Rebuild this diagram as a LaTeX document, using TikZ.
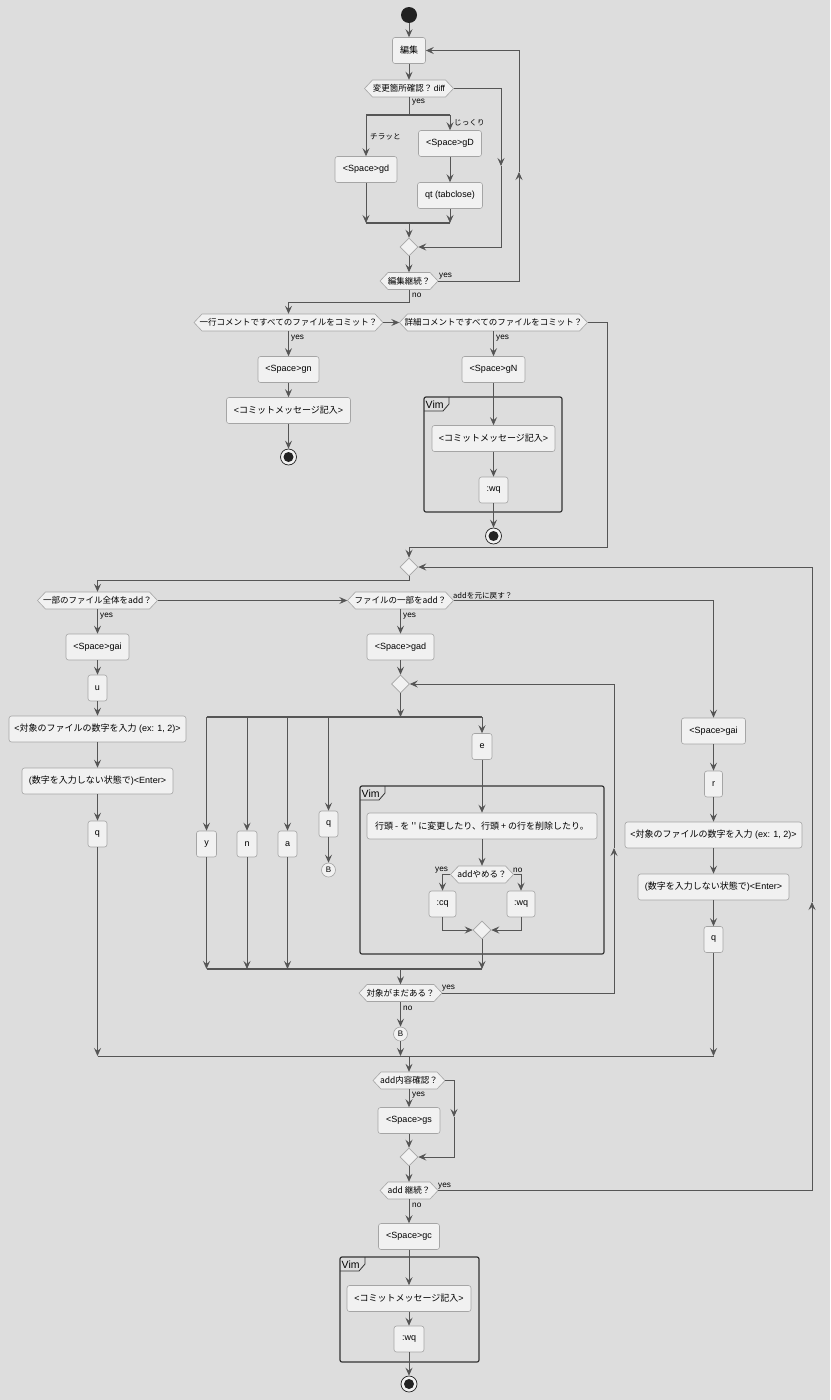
\documentclass[tikz,border=0pt]{standalone}
\usepackage{fontspec}
\setmainfont{Liberation Sans}
\newfontfamily\jp{Noto Sans CJK JP}
\usetikzlibrary{arrows.meta,shapes.geometric}
\definecolor{bgc}{HTML}{DDDDDD}
\definecolor{boxf}{HTML}{F1F1F1}
\definecolor{boxd}{HTML}{A5A5A5}
\definecolor{linec}{HTML}{555555}
\definecolor{partc}{HTML}{333333}
\definecolor{dotc}{HTML}{222222}
\tikzset{
 act/.style={rectangle, rounded corners=2.5pt, draw=boxd, fill=boxf, line width=0.6pt, inner sep=0pt, font=\fontsize{9}{10}\selectfont, text=black},
 hexbox/.style={rectangle, inner sep=0pt, minimum height=17pt, font=\fontsize{8.5}{10}\selectfont, text=black},
 hexline/.style={draw=boxd, fill=boxf, line width=0.6pt},
 merge/.style={diamond, draw=boxd, fill=boxf, line width=0.6pt, inner sep=0pt, minimum width=18pt, minimum height=18pt},
 startn/.style={circle, fill=dotc, inner sep=0pt, minimum size=16pt},
 endn/.style={circle, draw=dotc, fill=boxf, line width=0.7pt, inner sep=0pt, minimum size=16pt, path picture={\fill[dotc] (path picture bounding box.center) circle (5pt);}},
 conn/.style={circle, draw=boxd, fill=boxf, line width=0.6pt, inner sep=0pt, minimum size=14pt, font=\fontsize{8}{9}\selectfont},
 arr/.style={draw=linec, line width=0.8pt, ->},
 ln/.style={draw=linec, line width=0.8pt},
 bar/.style={draw=linec, line width=1.5pt},
 lbl/.style={inner sep=0pt, font=\fontsize{8.2}{9}\selectfont, text=black},
 jlbl/.style={inner sep=0pt, font=\fontsize{7.6}{9}\selectfont\jp, text=black},
 part/.style={draw=partc, line width=1.2pt, rounded corners=2pt},
}
\newcommand\hexat[5]{%
 \path[hexline] ({#2-#4/2},#3) -- ({#2-#4/2+8},{#3-8.5}) -- ({#2+#4/2-8},{#3-8.5}) -- ({#2+#4/2},#3) -- ({#2+#4/2-8},{#3+8.5}) -- ({#2-#4/2+8},{#3+8.5}) -- cycle;
 \node[hexbox, minimum width=#4pt] (#1) at (#2,#3) {#5};}
\newcommand\actat[5]{\node[act, minimum width=#4pt, minimum height=26pt] (#1) at (#2,#3) {#5};}
\newcommand\vimpart[5]{%
 \draw[part] (#2,#3) rectangle (#4,#5);
 \draw[partc, line width=0.8pt] (#2,{#3+14}) -- ({#2+19},{#3+14}) -- ({#2+25},{#3+7}) -- ({#2+25},#3);
 \node[anchor=base west, inner sep=0pt, font=\fontsize{10.5}{11}\selectfont] (#1) at ({#2+1.5},{#3+11}) {Vim};}
\begin{document}
\begin{tikzpicture}[x=1pt,y=-1pt,>={Stealth[length=8pt,width=7pt,inset=3pt]}]
\fill[bgc] (0,0) rectangle (830,1400);
\useasboundingbox (0,0) rectangle (830,1400);

% partitions
\vimpart{v1}{424}{397}{562}{512}
\vimpart{v2}{360}{786}{604}{954}
\vimpart{v3}{340}{1257}{479}{1362}

% ---------- section 1
\node[startn] (start) at (409,15) {};
\actat{edit}{409}{50.5}{33}{\jp 編集}
\hexat{d1}{409}{88.5}{89}{{\jp 変更箇所確認？}\kern1.5pt diff}
\actat{gd}{366}{169.5}{62}{<Space>gd}
\actat{gD}{450}{143.5}{63}{<Space>gD}
\actat{qt}{450}{195.5}{65}{qt (tabclose)}
\node[merge] (m1) at (409,247) {};
\hexat{d2}{409}{281}{58}{\jp 編集継続？}

% ---------- section 2
\hexat{d3}{288.5}{322.5}{189}{\jp 一行コメントですべてのファイルをコミット？}
\hexat{d4}{493.5}{322.5}{188}{\jp 詳細コメントですべてのファイルをコミット？}
\actat{gn}{288.5}{369.5}{61}{<Space>gn}
\actat{cm1}{288.5}{410.5}{124}{<{\jp コミットメッセージ記入}>}
\node[endn] (end1) at (288.5,457) {};
\actat{gN}{493.5}{369.5}{63}{<Space>gN}
\actat{cm2}{493.5}{438.5}{123}{<{\jp コミットメッセージ記入}>}
\actat{wq1}{493.5}{490}{29}{:wq}
\node[endn] (end2) at (493.5,536) {};

% ---------- section 3
\node[merge] (m2) at (409,567) {};
\hexat{d5}{97.5}{600.5}{120}{\jp 一部のファイル全体をadd？}
\hexat{d6}{400.5}{600.5}{106}{\jp ファイルの一部をadd？}
\actat{gai1}{97.5}{647}{63}{<Space>gai}
\actat{u}{97.5}{688}{19}{u}
\actat{tn1}{97.5}{729}{177}{<{\jp 対象のファイルの数字を入力} (ex: 1, 2)>}
\actat{en1}{97.5}{781}{151}{({\jp 数字を入力しない状態で})<Enter>}
\actat{q1}{97.5}{834}{19}{q}
\actat{gad}{400.5}{647}{67}{<Space>gad}
\node[merge] (m3) at (400.5,684) {};
\actat{ky}{206.5}{844}{20}{y}
\actat{kn}{247}{844}{20}{n}
\actat{ka}{287.5}{844}{19}{a}
\actat{kq}{328.5}{824}{19}{q}
\node[conn] (B1) at (328.5,870) {B};
\actat{ke}{482}{746.5}{20}{e}
\actat{etxt}{482}{826}{230}{\jp 行頭 - を \textquotesingle\textquotesingle\ に変更したり、行頭 + の行を削除したり。}
\hexat{d7}{482}{874.5}{63}{\jp addやめる？}
\actat{cq}{442.5}{904}{27}{:cq}
\actat{wq2}{521}{904}{28}{:wq}
\node[merge] (m4) at (482,930) {};
\hexat{d8}{400.5}{993}{83}{\jp 対象がまだある？}
\node[conn] (B2) at (400.5,1034) {B};
\actat{gai2}{713.5}{731}{64}{<Space>gai}
\actat{r}{713.5}{784}{18}{r}
\actat{tn2}{713.5}{835}{177}{<{\jp 対象のファイルの数字を入力} (ex: 1, 2)>}
\actat{en2}{713.5}{887}{151}{({\jp 数字を入力しない状態で})<Enter>}
\actat{q3}{713.5}{939.5}{19}{q}

% ---------- section 4
\hexat{d9}{409}{1080.5}{72}{\jp add内容確認？}
\actat{gs}{409}{1120.5}{62}{<Space>gs}
\node[merge] (m5) at (409,1157) {};
\hexat{d10}{409}{1190.5}{58}{\jp add 継続？}
\actat{gc}{409}{1236.5}{61}{<Space>gc}
\actat{cm3}{409}{1298.5}{124}{<{\jp コミットメッセージ記入}>}
\actat{wq3}{409}{1339}{30}{:wq}
\node[endn] (end3) at (409,1384) {};

% ---------- coordinates
\coordinate (s1c) at (409,115);
\coordinate (s1l) at (366,115);
\coordinate (s1r) at (450,115);
\coordinate (j1c) at (409,223);
\coordinate (j1l) at (366,223);
\coordinate (j1r) at (450,223);
\coordinate (n1a) at (501,88.5);
\coordinate (n1b) at (501,166);
\coordinate (n1c) at (501,247);
\coordinate (y2a) at (519,281);
\coordinate (y2b) at (519,172);
\coordinate (y2c) at (519,50.5);
\coordinate (n2) at (409,302);
\coordinate (c4a) at (607,322.5);
\coordinate (c4b) at (607,547.5);
\coordinate (c4c) at (409,547.5);
\coordinate (c5a) at (409,580);
\coordinate (s2c) at (400.5,717);
\coordinate (s2l) at (206.5,717);
\coordinate (s2r) at (482,717);
\coordinate (j2c) at (400.5,969);
\coordinate (j2l) at (206.5,969);
\coordinate (j2r) at (482,969);
\coordinate (l8a) at (614,993);
\coordinate (l8b) at (614,848);
\coordinate (l8c) at (614,684);
\coordinate (j3a) at (97.5,1056);
\coordinate (j3b) at (713.5,1056);
\coordinate (j3c) at (409,1056);
\coordinate (j3m) at (400.5,1056);
\coordinate (n9a) at (454,1080.5);
\coordinate (n9b) at (454,1117);
\coordinate (n9c) at (454,1157);
\coordinate (l10a) at (812,1190.5);
\coordinate (l10b) at (812,902);
\coordinate (l10c) at (812,567);

% ---------- connectors section 1
\draw[arr] (start) -- (edit);
\draw[arr] (edit) -- (d1);
\draw[ln] (d1.south) -- (s1c);
\draw[bar] (s1l) -- (s1r);
\draw[arr] (s1l) -- (gd.north);
\draw[arr] (s1r) -- (gD.north);
\draw[arr] (gD) -- (qt);
\draw[arr] (gd.south) -- (j1l);
\draw[arr] (qt.south) -- (j1r);
\draw[bar] (j1l) -- (j1r);
\draw[arr] (j1c) -- (m1.north);
\draw[arr] (d1.east) -- (n1a) -- (n1b);
\draw[arr] (n1b) -- (n1c) -- (m1.east);
\draw[arr] (m1) -- (d2);
\draw[arr] (d2.east) -- (y2a) -- (y2b);
\draw[arr] (y2b) -- (y2c) -- (edit.east);
\node[lbl, anchor=west] at (412,102) {yes};
\node[jlbl, anchor=west] at (370,137) {チラッと};
\node[jlbl, anchor=west] at (454,123) {じっくり};
\node[lbl, anchor=west] at (439,276) {yes};
\node[lbl, anchor=west] at (412,295) {no};

% ---------- connectors section 2
\draw[arr] (d2.south) -- (n2) -| (d3.north);
\draw[arr] (d3.east) -- (d4.west);
\draw[arr] (d3) -- (gn);
\draw[arr] (gn) -- (cm1);
\draw[arr] (cm1) -- (end1);
\draw[arr] (d4) -- (gN);
\draw[arr] (gN) -- (cm2);
\draw[arr] (cm2) -- (wq1);
\draw[arr] (wq1) -- (end2);
\draw[arr] (d4.east) -- (c4a) -- (c4b) -- (c4c) -- (m2.north);
\node[lbl, anchor=west] at (291,338) {yes};
\node[lbl, anchor=west] at (496,338) {yes};

% ---------- connectors section 3
\draw[arr] (m2.south) -- (c5a) -| (d5.north);
\draw[arr] (d5.east) -- (d6.west);
\draw[arr] (d5) -- (gai1);
\draw[arr] (gai1) -- (u);
\draw[arr] (u) -- (tn1);
\draw[arr] (tn1) -- (en1);
\draw[arr] (en1) -- (q1);
\draw[arr] (q1.south) -- (j3a);
\draw[arr] (d6) -- (gad);
\draw[arr] (gad) -- (m3);
\draw[arr] (m3.south) -- (s2c);
\draw[bar] (s2l) -- (s2r);
\draw[arr] (s2l) -- (ky.north);
\draw[arr] (kn.north |- s2l) -- (kn.north);
\draw[arr] (ka.north |- s2l) -- (ka.north);
\draw[arr] (kq.north |- s2l) -- (kq.north);
\draw[arr] (s2r) -- (ke.north);
\draw[arr] (kq) -- (B1);
\draw[arr] (ke) -- (etxt);
\draw[arr] (etxt) -- (d7);
\draw[arr] (d7.west) -| (cq.north);
\draw[arr] (d7.east) -| (wq2.north);
\draw[arr] (cq.south) |- (m4.west);
\draw[arr] (wq2.south) |- (m4.east);
\draw[arr] (m4.south) -- (j2r);
\draw[arr] (ky.south) -- (j2l);
\draw[arr] (kn.south) -- (kn.south |- j2l);
\draw[arr] (ka.south) -- (ka.south |- j2l);
\draw[bar] (j2l) -- (j2r);
\draw[arr] (j2c) -- (d8.north);
\draw[arr] (d8.east) -- (l8a) -- (l8b);
\draw[arr] (l8b) -- (l8c) -- (m3.east);
\draw[arr] (d8) -- (B2);
\draw[arr] (B2) -- (j3m);
\draw[arr] (d6.east) -| (gai2.north);
\draw[arr] (gai2) -- (r);
\draw[arr] (r) -- (tn2);
\draw[arr] (tn2) -- (en2);
\draw[arr] (en2) -- (q3);
\draw[arr] (q3.south) -- (j3b);
\draw[ln] (j3a) -- (j3b);
\node[lbl, anchor=west] at (100,616) {yes};
\node[lbl, anchor=west] at (403,616) {yes};
\node[jlbl, anchor=south west] at (453,599) {addを元に戻す？};
\node[lbl, anchor=west] at (435,870) {yes};
\node[lbl, anchor=west] at (513,870) {no};
\node[lbl, anchor=west] at (442,988) {yes};
\node[lbl, anchor=west] at (403,1008) {no};

% ---------- connectors section 4
\draw[arr] (j3c) -- (d9.north);
\draw[arr] (d9) -- (gs);
\draw[arr] (gs) -- (m5);
\draw[arr] (d9.east) -- (n9a) -- (n9b);
\draw[arr] (n9b) -- (n9c) -- (m5.east);
\draw[arr] (m5) -- (d10);
\draw[arr] (d10.east) -- (l10a) -- (l10b);
\draw[arr] (l10b) -- (l10c) -- (m2.east);
\draw[arr] (d10) -- (gc);
\draw[arr] (gc) -- (cm3);
\draw[arr] (cm3) -- (wq3);
\draw[arr] (wq3) -- (end3);
\node[lbl, anchor=west] at (412,1095) {yes};
\node[lbl, anchor=west] at (438,1186) {yes};
\node[lbl, anchor=west] at (412,1205) {no};
\end{tikzpicture}
\end{document}
